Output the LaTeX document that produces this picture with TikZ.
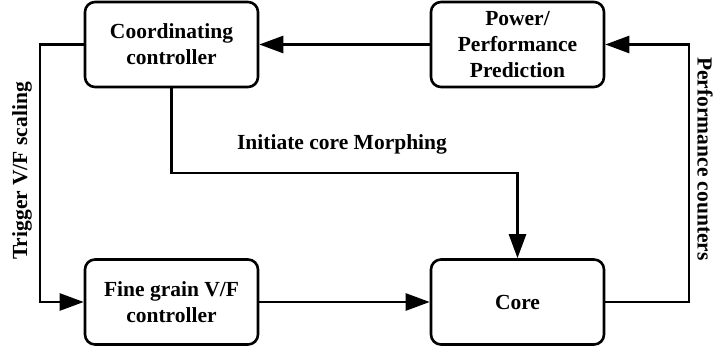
\documentclass[tikz,border=0pt]{standalone}
\usepackage{fontspec}
\setmainfont{Liberation Serif}
\usetikzlibrary{arrows.meta}

\tikzset{
    block/.style={draw, line width=2.6pt, rounded corners=10pt, minimum width=173pt,
        minimum height=85pt, align=center, font=\fontsize{21.5}{26}\selectfont\bfseries},
    link/.style={line width=2.6pt, -{Triangle[length=24pt,width=17pt]}},
    lbl/.style={font=\fontsize{21.5}{26}\selectfont\bfseries}
}

\begin{document}
\begin{tikzpicture}[x=1pt,y=1pt]
    \useasboundingbox (0,0) rectangle (714,351);
    % blocks
    \node[block] (coord) at (171.5,306.5) {Coordinating\\controller};
    \node[block] (pred) at (517.5,306.5) {Power/\\Performance\\Prediction};
    \node[block] (fine) at (171.5,49) {Fine grain V/F\\controller};
    \node[block] (core) at (517.5,49) {Core};
    \coordinate (leftx) at (40,306.5);
    \coordinate (rightx) at (689,49);
    \coordinate (morph) at (171.5,178);
    % connectors
    \draw[link] (pred) -- (coord);
    \draw[link] (fine) -- (core);
    \draw[link] (coord.west) -- (leftx) |- (fine.west);
    \draw[link] (core.east) -- (rightx) |- (pred.east);
    \draw[link] (coord.south) -- (morph) -| (core.north);
    % labels
    \node[lbl, rotate=90] (trig) at (22,180) {Trigger V/F scaling};
    \node[lbl, rotate=-90] (perf) at (705,192) {Performance counters};
    \node[lbl] (init) at (342,207) {Initiate core Morphing};
\end{tikzpicture}
\end{document}
